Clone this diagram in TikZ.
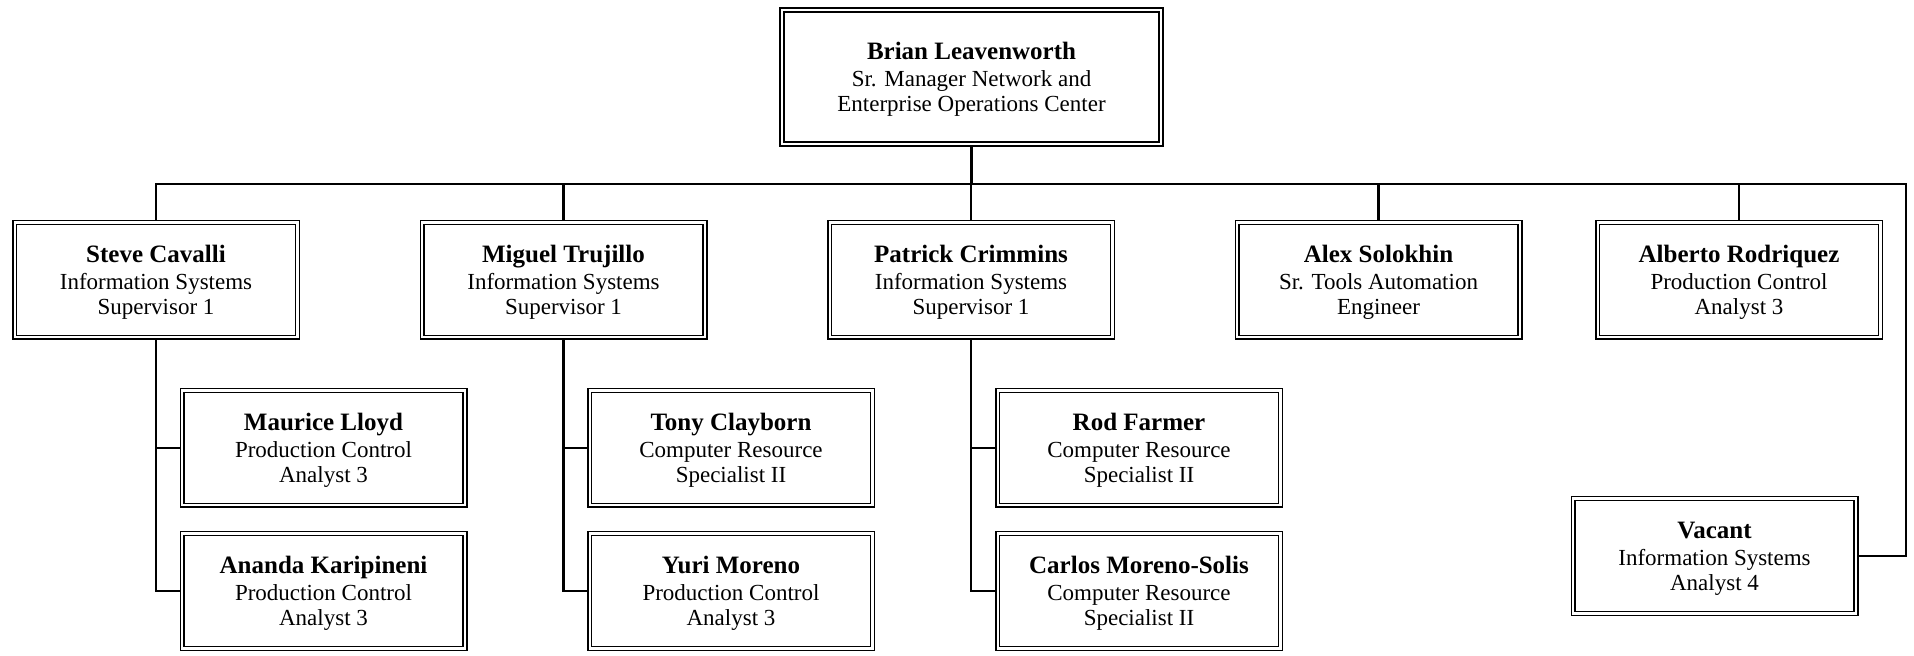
\documentclass[tikz,border=0pt]{standalone}
\usepackage{fontspec}
\setmainfont{Liberation Serif}
\usetikzlibrary{backgrounds}
\begin{document}
\begin{tikzpicture}[x=0.5pt,y=-0.5pt,
  box/.style={draw, line width=0.75pt, double, double distance=1.1pt, fill=white,
    minimum width=141.4pt, minimum height=57.4pt, inner sep=0pt, align=center,
    font=\fontsize{11.5}{12.8}\selectfont},
  topbox/.style={box, minimum width=189.5pt, minimum height=67pt},
  link/.style={line width=1.1pt}]
\newcommand{\nm}[1]{{\fontsize{12.5}{14}\selectfont\bfseries\rule{0pt}{11.2pt}#1}\\[0.6pt]}
\useasboundingbox (0,0) rectangle (1914,656);

\node[topbox] (top) at (971.5,77) {\nm{Brian Leavenworth}Sr. Manager Network and\\Enterprise Operations Center};

\node[box] (steve) at (156,280) {\nm{Steve Cavalli}Information Systems\\Supervisor 1};
\node[box] (miguel) at (563.5,280) {\nm{Miguel Trujillo}Information Systems\\Supervisor 1};
\node[box] (patrick) at (971,280) {\nm{Patrick Crimmins}Information Systems\\Supervisor 1};
\node[box] (alex) at (1378.5,280) {\nm{Alex Solokhin}Sr. Tools Automation\\Engineer};
\node[box] (alberto) at (1739,280) {\nm{Alberto Rodriquez}Production Control\\Analyst 3};

\node[box] (maurice) at (323.5,448) {\nm{Maurice Lloyd}Production Control\\Analyst 3};
\node[box] (ananda) at (323.5,591) {\nm{Ananda Karipineni}Production Control\\Analyst 3};
\node[box] (tony) at (731,448) {\nm{Tony Clayborn}Computer Resource\\Specialist II};
\node[box] (yuri) at (731,591) {\nm{Yuri Moreno}Production Control\\Analyst 3};
\node[box] (rod) at (1139,448) {\nm{Rod Farmer}Computer Resource\\Specialist II};
\node[box] (carlos) at (1139,591) {\nm{Carlos Moreno-Solis}Computer Resource\\Specialist II};

\node[box] (vacant) at (1714.5,556) {\nm{Vacant}Information Systems\\Analyst 4};

\coordinate (busR) at (1906,184);

\begin{pgfonlayer}{background}
\draw[link] (steve.north) |- (busR) |- (vacant.east);
\draw[link] (top.south) -- (top.south |- busR);
\draw[link] (miguel.north) -- (miguel.north |- busR);
\draw[link] (patrick.north) -- (patrick.north |- busR);
\draw[link] (alex.north) -- (alex.north |- busR);
\draw[link] (alberto.north) -- (alberto.north |- busR);

\draw[link] (steve.south) |- (ananda.west);
\draw[link] (steve.south |- maurice.west) -- (maurice.west);
\draw[link] (miguel.south) |- (yuri.west);
\draw[link] (miguel.south |- tony.west) -- (tony.west);
\draw[link] (patrick.south) |- (carlos.west);
\draw[link] (patrick.south |- rod.west) -- (rod.west);
\end{pgfonlayer}
\end{tikzpicture}
\end{document}
